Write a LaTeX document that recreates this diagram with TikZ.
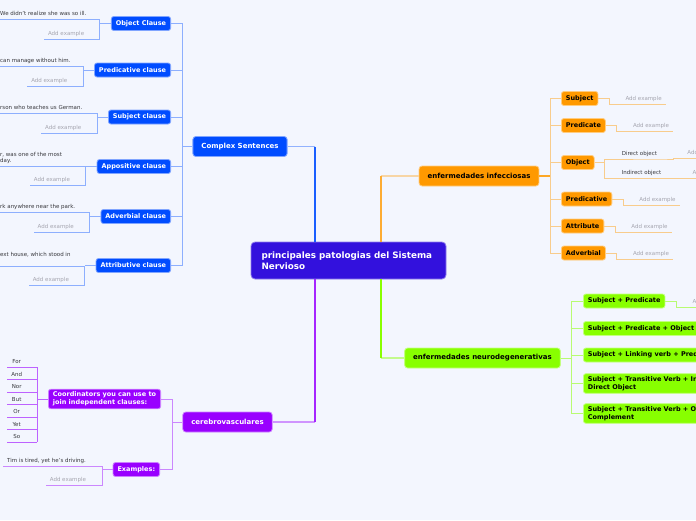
\documentclass[tikz,border=0pt]{standalone}
\usepackage{fontspec}
\setmainfont{DejaVu Sans}
\usetikzlibrary{calc}

\definecolor{paper}{RGB}{243,246,254}
\definecolor{rootcol}{RGB}{51,17,221}
\definecolor{blucol}{RGB}{0,76,255}
\definecolor{orgcol}{RGB}{255,153,0}
\definecolor{grncol}{RGB}{136,255,0}
\definecolor{purcol}{RGB}{153,0,255}
\definecolor{exgray}{RGB}{55,55,60}
\definecolor{addgray}{RGB}{165,165,175}

\begin{document}
\begin{tikzpicture}
[x=1pt, y=-1pt,
every node/.style = {inner sep=0pt},
root/.style = {rounded corners=4pt, fill=rootcol, draw=rootcol!55!white, line width=0.8pt, text=white,
  font=\fontsize{8.8}{11}\selectfont\bfseries, text width=174pt, align=left, inner xsep=10.5pt, minimum height=37pt},
topic/.style = {rounded corners=3pt, line width=0.8pt, font=\fontsize{7}{8.5}\selectfont\bfseries,
  inner xsep=8.5pt, minimum height=20pt},
sub/.style = {rounded corners=2.5pt, line width=0.8pt, font=\fontsize{6.5}{8.3}\selectfont\bfseries,
  inner xsep=4.5pt, inner ysep=2.5pt, minimum height=14pt, align=left},
blubox/.style = {fill=blucol, draw=blucol!50!white, text=white},
orgbox/.style = {fill=orgcol, draw=orgcol!50!white, text=black},
grnbox/.style = {fill=grncol, draw=grncol!50!white, text=black},
purbox/.style = {fill=purcol, draw=purcol!50!white, text=white},
exnote/.style = {anchor=south west, inner xsep=4pt, inner ysep=1.5pt, text depth=1.5pt,
  font=\fontsize{5.5}{6.7}\selectfont, text=exgray, align=left},
addnote/.style = {exnote, text=addgray},
coitem/.style = {exnote, inner xsep=0pt, minimum width=19pt, align=center},
trunk/.style = {line width=1.6pt},
link/.style = {line width=1.2pt},
bluline/.style = {draw=blucol!42!paper, line width=1pt},
orgline/.style = {draw=orgcol!45!paper, line width=1pt},
grnline/.style = {draw=grncol!55!paper, line width=1pt},
purline/.style = {draw=purcol!45!paper, line width=1pt}]

\useasboundingbox (0,0) rectangle (696,520);
\clip (0,0) rectangle (696,520);
\fill[paper] (0,0) rectangle (696,520);

\node[root] (root) at (348.5,260.5) {principales patologias del Sistema\\Nervioso};
\coordinate (rnw) at ([xshift=-33.5pt]root.north);
\coordinate (rne) at ([xshift=32.5pt]root.north);
\coordinate (rsw) at ([xshift=-33.5pt]root.south);
\coordinate (rse) at ([xshift=32.5pt]root.south);

% Complex Sentences
\node[topic, blubox] (cs) at (240,146.5) {Complex Sentences};
\draw[link, draw=blucol!40!paper] (cs.east) -- (rnw |- cs.east);
\draw[trunk, draw=blucol!90] (rnw |- cs.east) -- (rnw);
\draw[bluline] (cs.west) -- ++(-10,0) coordinate (csk);

\node[sub, blubox, anchor=east] (objcl) at (171,23.5) {Object Clause};
\node[sub, blubox, anchor=east] (predcl) at (171,70) {Predicative clause};
\node[sub, blubox, anchor=east] (subjcl) at (171,117) {Subject clause};
\node[sub, blubox, anchor=east] (appcl) at (171,166.5) {Appositive clause};
\node[sub, blubox, anchor=east] (advcl) at (171,216.5) {Adverbial clause};
\node[sub, blubox, anchor=east] (attcl) at (171,265.5) {Attributive clause};
\foreach \n in {objcl,predcl,subjcl,appcl,advcl,attcl}
  \draw[bluline] (\n.east) -| (csk);

\node[exnote] (objx) at (-4,19) {We didn't realize she was so ill.};
\node[addnote] (obja) at ([xshift=-67pt,yshift=-15.5pt]objcl.west) {Add example};
\draw[bluline] (objcl.west) -- ++(-11,0) coordinate (objk);
\draw[bluline] (objx.south west) -| (objk |- obja.south) -- (obja.south west);

\node[exnote] (predx) at (-4,66) {can manage without him.};
\node[addnote] (preda) at ([xshift=-67pt,yshift=-16pt]predcl.west) {Add example};
\draw[bluline] (predcl.west) -- ++(-11,0) coordinate (predk);
\draw[bluline] (predx.south west) -| (predk |- preda.south) -- (preda.south west);

\node[exnote] (subjx) at (-4,113) {rson who teaches us German.};
\node[addnote] (subja) at ([xshift=-67pt,yshift=-16pt]subjcl.west) {Add example};
\draw[bluline] (subjcl.west) -- ++(-11,0) coordinate (subjk);
\draw[bluline] (subjx.south west) -| (subjk |- subja.south) -- (subja.south west);

\node[exnote] (appx) at (-4,166) {r, was one of the most\\day.};
\node[addnote] (appa) at ([xshift=-67pt,yshift=-18.5pt]appcl.west) {Add example};
\draw[bluline] (appcl.west) -- ++(-11,0) coordinate (appk);
\draw[bluline] (appx.south west) -| (appk |- appa.south) -- (appa.south west);

\node[exnote] (advx) at (-4,212) {rk anywhere near the park.};
\node[addnote] (adva) at ([xshift=-67pt,yshift=-15.5pt]advcl.west) {Add example};
\draw[bluline] (advcl.west) -- ++(-11,0) coordinate (advk);
\draw[bluline] (advx.south west) -| (advk |- adva.south) -- (adva.south west);

\node[exnote] (attx) at (-4,266) {ext house, which stood in\\\mbox{}};
\node[addnote] (atta) at ([xshift=-67pt,yshift=-19.5pt]attcl.west) {Add example};
\draw[bluline] (attcl.west) -- ++(-11,0) coordinate (attk);
\draw[bluline] (attx.south west) -| (attk |- atta.south) -- (atta.south west);

% enfermedades infecciosas
\node[topic, orgbox] (inf) at (479,176) {enfermedades infecciosas};
\draw[link, draw=orgcol!35!paper] (inf.west) -- (rne |- inf.west);
\draw[trunk, draw=orgcol!80!paper] (rne |- inf.west) -- (rne);
\draw[line width=2pt, draw=orgcol!85!paper] (inf.east) -- ++(11,0) coordinate (ink);

\node[sub, orgbox, anchor=west] (subj) at (561,98.5) {Subject};
\node[sub, orgbox, anchor=west] (pred) at (561,125.5) {Predicate};
\node[sub, orgbox, anchor=west] (obj) at (561,162.5) {Object};
\node[sub, orgbox, anchor=west] (predv) at (561,199) {Predicative};
\node[sub, orgbox, anchor=west] (attr) at (561,226) {Attribute};
\node[sub, orgbox, anchor=west] (advb) at (561,253) {Adverbial};
\foreach \n in {subj,pred,obj,predv,attr,advb}
  \draw[orgline] (\n.west) -| (ink);
\foreach \n/\d in {subj/5.5,pred/5.5,predv/6,attr/6,advb/6}{
  \node[addnote] (\n a) at ([xshift=23pt,yshift=-\d pt]\n.east) {Add example};
  \draw[orgline] (\n.east) -- ++(11,0) |- (\n a.south east);
}

\draw[orgline] (obj.east) -- ++(10,0) coordinate (objok);
\node[exnote] (dirob) at ([xshift=13pt,yshift=3.5pt]objok) {Direct object};
\node[exnote] (indob) at ([xshift=13pt,yshift=-15.5pt]objok) {Indirect object};
\node[addnote] (dirada) at ([xshift=22pt,yshift=1pt]dirob.south east) {Add example};
\node[addnote] (indada) at ([xshift=23pt]indob.south east) {Add example};
\draw[orgline] (objok |- dirob.south) -- (dirob.south east) -- ++(12,0) |- (dirada.south east);
\draw[orgline] (objok |- dirob.south) -- (objok |- indob.south) -- (indada.south east);

% enfermedades neurodegenerativas
\node[topic, grnbox] (neu) at (482.5,358) {enfermedades neurodegenerativas};
\draw[link, draw=grncol!45!paper] (neu.west) -- (rse |- neu.west);
\draw[trunk, draw=grncol] (rse) -- (rse |- neu.west);
\draw[grnline] (neu.east) -- ++(11,0) coordinate (nek);

\node[sub, grnbox, anchor=west] (sp) at (583,301) {Subject + Predicate};
\node[sub, grnbox, anchor=west] (spo) at (583,328.5) {Subject + Predicate + Object};
\node[sub, grnbox, anchor=west] (slp) at (583,355) {Subject + Linking verb + Predicative};
\node[sub, grnbox, anchor=west] (stio) at (583,383.5) {Subject + Transitive Verb + Indirect Object +\\Direct Object};
\node[sub, grnbox, anchor=west] (stoc) at (583,413.5) {Subject + Transitive Verb + Object +\\Complement};
\foreach \n in {sp,spo,slp,stio,stoc}
  \draw[grnline] (\n.west) -| (nek);
\node[addnote] (spa) at ([xshift=23pt,yshift=-6pt]sp.east) {Add example};
\draw[grnline] (sp.east) -- ++(11,0) |- (spa.south east);

% cerebrovasculares
\node[topic, purbox] (cer) at (227.5,422) {cerebrovasculares};
\draw[link, draw=purcol!40!paper] (cer.east) -- (rsw |- cer.east);
\draw[trunk, draw=purcol!85!paper] (rsw) -- (rsw |- cer.east);
\draw[purline] (cer.west) -- ++(-10,0) coordinate (cek);

\node[sub, purbox, anchor=east] (coord) at (161,399) {Coordinators you can use to\\join independent clauses:};
\node[sub, purbox, anchor=east] (exmp) at (160,469.5) {Examples:};
\draw[purline] (coord.east) -| (cek);
\draw[purline] (exmp.east) -| (cek);

\draw[purline, draw=purcol!60!paper] (coord.west) -- ++(-11,0) coordinate (cok);
\foreach \w [count=\i from 0] in {For,And,Nor,But,Or,Yet,So}{
  \node[coitem] (co\i) at (7,{367+12.5*\i}) {\w};
  \draw[purline, draw=purcol!60!paper] (co\i.south west) -- (cok |- co\i.south);
}
\draw[purline, draw=purcol!60!paper] (cok |- co0.south) -- (cok |- co6.south);

\node[exnote] (tim) at (3,466) {Tim is tired, yet he's driving.};
\node[addnote] (tima) at ([xshift=-67pt,yshift=-15.5pt]exmp.west) {Add example};
\draw[purline] (exmp.west) -- ++(-10,0) coordinate (exk);
\draw[purline] (tim.south west) -| (exk |- tima.south) -- (tima.south west);

\end{tikzpicture}
\end{document}
